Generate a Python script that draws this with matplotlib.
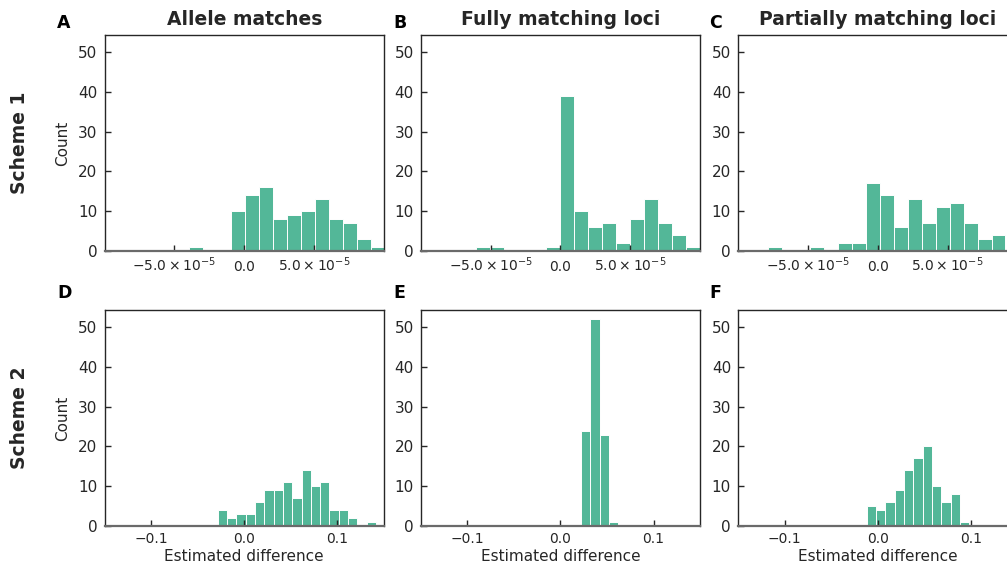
"""Estimated-difference histograms for two typing schemes (3 match types each)."""

import matplotlib
matplotlib.use("Agg")
import matplotlib.pyplot as plt  # noqa: E402
import numpy as np  # noqa: E402

# ---- data (bin start, bin width, counts per consecutive bin) ----
col_titles = ["Allele matches", "Fully matching loci", "Partially matching loci"]
row_titles = ["Scheme 1", "Scheme 2"]
letters = ["A", "B", "C", "D", "E", "F"]

s1_width = 1e-5
s1_starts = [-3.92e-5, -6.05e-5, -7.86e-5]
s1_allele = [1, 0, 0, 10, 14, 16, 8, 9, 10, 13, 8, 7, 3, 1]
s1_full = [1, 1, 0, 0, 0, 1, 39, 10, 6, 7, 2, 8, 13, 7, 4, 1]
s1_partial = [1, 0, 0, 1, 0, 2, 2, 17, 14, 6, 13, 7, 11, 12, 7, 3, 4]

s2_width = 0.01
s2_starts = [-0.0285, 0.0221, -0.0118]
s2_allele = [4, 2, 3, 3, 6, 9, 9, 11, 7, 14, 10, 11, 4, 4, 2, 0, 1]
s2_full = [24, 52, 23, 1]
s2_partial = [5, 4, 6, 9, 14, 17, 20, 10, 6, 8, 1]

s1_xticks = [-5e-5, 0.0, 5e-5]
s1_xticklabels = [r"$-5.0\times10^{-5}$", "0.0", r"$5.0\times10^{-5}$"]
s2_xticks = [-0.1, 0.0, 0.1]
s2_xticklabels = ["\u22120.1", "0.0", "0.1"]
yticks = [0, 10, 20, 30, 40, 50]

BAR = "#53b798"
TXT = "#262626"
W, H = 1007, 565

plt.rcParams.update({"font.family": "DejaVu Sans", "text.color": TXT,
                     "axes.labelcolor": TXT, "xtick.color": TXT, "ytick.color": TXT})

fig = plt.figure(figsize=(W / 100, H / 100), dpi=100)

col_left = [104.5, 420.7, 738.0]
row_top = [35.0, 310.0]
ax_w, ax_h = 279.5, 216.0

rows = [
    (s1_starts, s1_width, [s1_allele, s1_full, s1_partial], (-1e-4, 1e-4),
     s1_xticks, s1_xticklabels),
    (s2_starts, s2_width, [s2_allele, s2_full, s2_partial], (-0.15, 0.15),
     s2_xticks, s2_xticklabels),
]

letter_x = [57, 393, 709]
letter_y = [28, 298]

for r, (starts, width, series, xlim, xt, xtl) in enumerate(rows):
    for c, counts in enumerate(series):
        rect = [col_left[c] / W, 1 - (row_top[r] + ax_h) / H, ax_w / W, ax_h / H]
        ax = fig.add_axes(rect)
        counts = np.asarray(counts)
        edges = starts[c] + width * np.arange(len(counts))
        ax.bar(edges, counts, width=width, align="edge", color=BAR,
               edgecolor="white", linewidth=0.7)
        ax.set_xlim(*xlim)
        ax.set_ylim(0, 54.3)
        ax.set_yticks(yticks)
        ax.set_xticks(xt)
        ax.set_xticklabels(xtl)
        ax.tick_params(direction="in", length=4, width=1, top=False, right=False)
        ax.tick_params(axis="y", labelsize=11, pad=5)
        if r == 0:
            # scientific labels sit on a common baseline
            ax.tick_params(axis="x", labelsize=10, pad=14.2)
            for lbl in ax.get_xticklabels():
                lbl.set_verticalalignment("baseline")
        else:
            ax.tick_params(axis="x", labelsize=10, pad=4.3)
        for side in ("top", "right", "left"):
            ax.spines[side].set_color(TXT)
            ax.spines[side].set_linewidth(1.0)
        ax.spines["bottom"].set_color("#6a6a6a")
        ax.spines["bottom"].set_linewidth(1.6)
        if r == 0:
            ax.set_title(col_titles[c], fontsize=13.5, fontweight="bold", pad=7)
        else:
            ax.set_xlabel("Estimated difference", fontsize=11, labelpad=2)
        if c == 0:
            ax.set_ylabel("Count", fontsize=11, labelpad=6)
        fig.text(letter_x[c] / W, 1 - letter_y[r] / H, letters[r * 3 + c],
                 fontsize=12.5, fontweight="bold", color="black", va="baseline")
    fig.text(20 / W, 1 - (row_top[r] + ax_h / 2) / H, row_titles[r], rotation=90,
             fontsize=13.5, fontweight="bold", ha="center", va="center")

fig.savefig("out.png", dpi=100)
